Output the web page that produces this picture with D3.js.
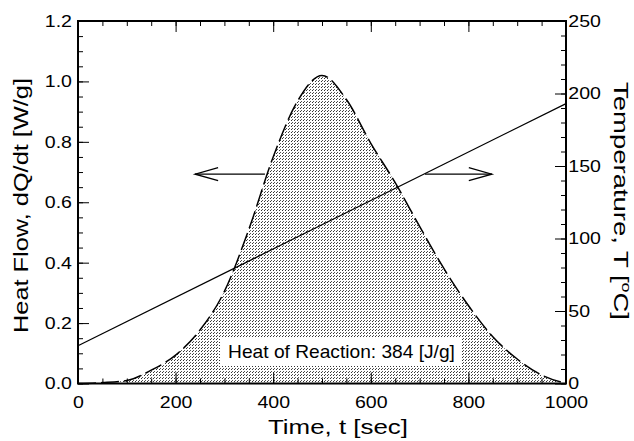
<!DOCTYPE html>
<html>
<head>
<meta charset="utf-8">
<script src="https://cdn.jsdelivr.net/npm/d3@7"></script>
<style>
  html, body { margin: 0; padding: 0; background: #fff; }
  svg { display: block; }
  text { font-family: "Liberation Sans", Arial, Helvetica, sans-serif; fill: #000; }
</style>
</head>
<body>
<svg id="chart" width="634" height="441"></svg>
<script>
// ---- data ----
const time = [0, 50, 100, 150, 200, 250, 300, 350, 400, 450, 500, 550, 600, 650, 700, 750, 800, 850, 900, 950, 1000];
const heatFlow = [0, 0.003, 0.01, 0.044, 0.094, 0.177, 0.305, 0.51, 0.75, 0.935, 1.02, 0.94, 0.795, 0.665, 0.52, 0.38, 0.258, 0.155, 0.081, 0.028, 0];
const tempTime = [0, 1000];
const temperature = [26, 193];
const xTicks = [0, 200, 400, 600, 800, 1000];
const yTicks = [0.0, 0.2, 0.4, 0.6, 0.8, 1.0, 1.2];
const tTicks = [0, 50, 100, 150, 200, 250];
const xTitle = "Time, t [sec]";
const yTitle = "Heat Flow, dQ/dt [W/g]";
const annotation = "Heat of Reaction: 384 [J/g]";
const arrowLeft = {from: 383, to: 240, at: 0.693};
const arrowRight = {from: 711, to: 848, at: 0.693};

// ---- layout ----
const svg = d3.select("#chart");
const L = 78, R = 566, T = 21, B = 383.5;
const x = d3.scaleLinear().domain([0, 1000]).range([L, R]);
const y = d3.scaleLinear().domain([0, 1.2]).range([B, T]);
const yT = d3.scaleLinear().domain([0, 250]).range([B, T]);
const SX = 1.15; // horizontal stretch of the original lettering

// pattern for stipple fill
const defs = svg.append("defs");
const pat = defs.append("pattern").attr("id", "stip")
  .attr("patternUnits", "userSpaceOnUse").attr("width", 3).attr("height", 3);
pat.append("rect").attr("width", 3).attr("height", 3).attr("fill", "#fff");
pat.append("rect").attr("x", 0).attr("y", 0).attr("width", 1).attr("height", 1).attr("fill", "#333");
pat.append("rect").attr("x", 1).attr("y", 2).attr("width", 1).attr("height", 1).attr("fill", "#555");

const pts = time.map((t, i) => ({t, v: heatFlow[i]}));

// shaded area
svg.append("path").datum(pts)
  .attr("d", d3.area().x(d => x(d.t)).y0(y(0)).y1(d => y(d.v)).curve(d3.curveMonotoneX))
  .attr("fill", "url(#stip)");

// annotation with white box
const ann = svg.append("g");
const annText = ann.append("text").attr("font-size", 18).attr("text-anchor", "middle").text(annotation);
const annW = annText.node().getComputedTextLength();
const annSx = 227 / annW;
const annCx = 341.5, annBase = 358;
annText.attr("transform", `translate(${annCx},${annBase}) scale(${annSx},1)`);
ann.insert("rect", "text")
  .attr("x", annCx - 227 / 2 - 8).attr("y", 338).attr("width", 227 + 15).attr("height", 28)
  .attr("fill", "#fff");

// dashed heat-flow curve
svg.append("path").datum(pts)
  .attr("d", d3.line().x(d => x(d.t)).y(d => y(d.v)).curve(d3.curveMonotoneX))
  .attr("fill", "none").attr("stroke", "#000").attr("stroke-width", 1.5)
  .attr("stroke-dasharray", "18,5");

// temperature line
svg.append("path").datum(tempTime.map((t, i) => ({t, v: temperature[i]})))
  .attr("d", d3.line().x(d => x(d.t)).y(d => yT(d.v)))
  .attr("fill", "none").attr("stroke", "#000").attr("stroke-width", 1.2);

// arrows
function arrow(a) {
  const x0 = x(a.from), x1 = x(a.to), yy = y(a.at);
  const dir = Math.sign(x1 - x0);
  const g = svg.append("g").attr("fill", "none").attr("stroke", "#000").attr("stroke-width", 1.3);
  g.append("line").attr("x1", x0).attr("y1", yy).attr("x2", x1).attr("y2", yy);
  g.append("path").attr("d", `M${x1 - dir * 23},${yy - 6.5} L${x1},${yy} L${x1 - dir * 23},${yy + 6.5}`);
}
arrow(arrowLeft);
arrow(arrowRight);

// ---- axes ----
const fmt1 = d3.format(".1f");
function styleAxis(g) {
  g.select(".domain").remove();
  g.selectAll("line").attr("stroke", "#000").attr("stroke-width", 1);
}
// minor ticks
svg.append("g").attr("transform", `translate(0,${B})`)
  .call(d3.axisBottom(x).tickValues(d3.range(0, 1001, 50)).tickSize(-5).tickFormat(""))
  .call(styleAxis);
svg.append("g").attr("transform", `translate(0,${T})`)
  .call(d3.axisTop(x).tickValues(d3.range(0, 1001, 50)).tickSize(-5).tickFormat(""))
  .call(styleAxis);
svg.append("g").attr("transform", `translate(${L},0)`)
  .call(d3.axisLeft(y).tickValues(d3.range(0, 1.2001, 0.05)).tickSize(-5).tickFormat(""))
  .call(styleAxis);
svg.append("g").attr("transform", `translate(${R},0)`)
  .call(d3.axisRight(yT).tickValues(d3.range(0, 251, 10)).tickSize(-5).tickFormat(""))
  .call(styleAxis);
// major ticks + labels
const xa = svg.append("g").attr("transform", `translate(0,${B})`)
  .call(d3.axisBottom(x).tickValues(xTicks).tickSize(-11).tickPadding(12.5).tickFormat(d3.format("d")))
  .call(styleAxis);
svg.append("g").attr("transform", `translate(0,${T})`)
  .call(d3.axisTop(x).tickValues(xTicks).tickSize(-11).tickFormat(""))
  .call(styleAxis);
const ya = svg.append("g").attr("transform", `translate(${L},0)`)
  .call(d3.axisLeft(y).tickValues(yTicks).tickSize(-11).tickPadding(5.3).tickFormat(fmt1))
  .call(styleAxis);
const ta = svg.append("g").attr("transform", `translate(${R},0)`)
  .call(d3.axisRight(yT).tickValues(tTicks).tickSize(-11).tickPadding(2).tickFormat(d3.format("d")))
  .call(styleAxis);
[xa, ya, ta].forEach(g => g.selectAll("text")
  .attr("font-size", 17).attr("font-family", "Liberation Sans, Arial, sans-serif")
  .attr("fill", "#000").attr("transform", `scale(${SX},1)`));
ta.selectAll("text").attr("dy", "0.3em");

// frame
svg.append("rect").attr("x", L).attr("y", T).attr("width", R - L).attr("height", B - T)
  .attr("fill", "none").attr("stroke", "#000").attr("stroke-width", 2);

// ---- titles ----
function fitText(sel, target) {
  const w = sel.node().getComputedTextLength();
  return target / w;
}
const xt = svg.append("text").attr("font-size", 20).attr("text-anchor", "middle").text(xTitle);
const xsx = fitText(xt, 140);
xt.attr("transform", `translate(338,434) scale(${xsx},1)`);

const yt = svg.append("text").attr("font-size", 20).attr("text-anchor", "middle").text(yTitle);
const ysx = fitText(yt, 255);
yt.attr("transform", `translate(28,205.5) rotate(-90) scale(${ysx},1)`);

const rt = svg.append("text").attr("font-size", 20).attr("text-anchor", "middle");
rt.append("tspan").text("Temperature, T [");
rt.append("tspan").attr("font-size", 13).attr("dy", -8).text("o");
rt.append("tspan").attr("dy", 8).text("C]");
const rsx = fitText(rt, 238);
rt.attr("transform", `translate(614,201) rotate(90) scale(${rsx},1)`);
</script>
</body>
</html>
